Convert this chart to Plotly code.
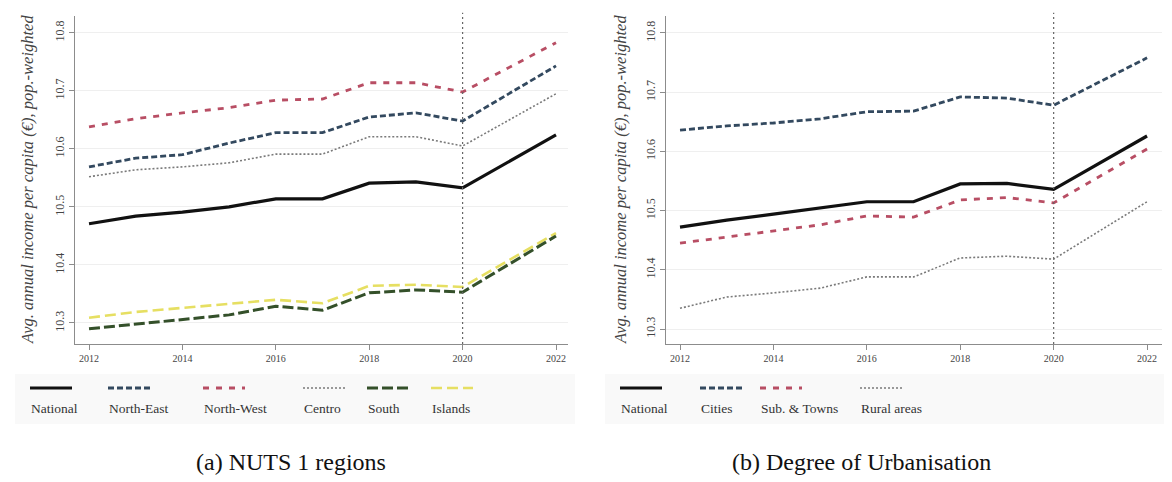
import plotly.graph_objects as go

# ---------------- data ----------------
years = [2012, 2013, 2014, 2015, 2016, 2017, 2018, 2019, 2020, 2022]

# Panel (a): NUTS 1 regions
national_a = [10.471, 10.484, 10.491, 10.500, 10.514, 10.514, 10.541, 10.543, 10.533, 10.624]
north_east = [10.569, 10.584, 10.590, 10.610, 10.628, 10.628, 10.655, 10.662, 10.648, 10.743]
north_west = [10.638, 10.652, 10.662, 10.671, 10.684, 10.686, 10.714, 10.714, 10.698, 10.783]
centro = [10.552, 10.564, 10.569, 10.576, 10.591, 10.591, 10.621, 10.621, 10.605, 10.695]
south = [10.290, 10.298, 10.305, 10.314, 10.329, 10.322, 10.352, 10.357, 10.353, 10.450]
islands = [10.309, 10.319, 10.326, 10.333, 10.340, 10.334, 10.364, 10.366, 10.362, 10.455]

# Panel (b): Degree of Urbanisation
national_b = [10.472, 10.484, 10.494, 10.504, 10.515, 10.515, 10.545, 10.546, 10.536, 10.626]
cities = [10.636, 10.643, 10.648, 10.655, 10.667, 10.668, 10.692, 10.690, 10.678, 10.758]
sub_towns = [10.445, 10.455, 10.466, 10.476, 10.491, 10.489, 10.518, 10.522, 10.513, 10.604]
rural = [10.335, 10.354, 10.361, 10.369, 10.388, 10.388, 10.420, 10.423, 10.418, 10.515]

x_ticks = [2012, 2014, 2016, 2018, 2020, 2022]
y_ticks = [10.3, 10.4, 10.5, 10.6, 10.7, 10.8]
y_tick_text = ["10.3", "10.4", "10.5", "10.6", "10.7", "10.8"]
break_year = 2020

labels_a = ["National", "North-East", "North-West", "Centro", "South", "Islands"]
labels_b = ["National", "Cities", "Sub. & Towns", "Rural areas"]
y_title = "Avg. annual income per capita (€), pop.-weighted"
caption_a = "(a) NUTS 1 regions"
caption_b = "(b) Degree of Urbanisation"

# ---------------- styles ----------------
WIN_W, WIN_H = 1172, 482
OFF = 8  # default page margin of the html body
W, H = WIN_W - OFF, WIN_H - OFF
SERIF = "Liberation Serif, Times New Roman, serif"

NAVY = "#33495f"
PINK = "#b84e64"
GREY = "#7a7a7a"
GREEN = "#34502a"
YELLOW = "#e6df62"

styles_a = [
    dict(color="#111111", width=3.2, dash="solid"),
    dict(color=NAVY, width=2.8, dash="6px,3px"),
    dict(color=PINK, width=2.8, dash="6px,7px"),
    dict(color=GREY, width=1.6, dash="2px,2px"),
    dict(color=GREEN, width=3.0, dash="11px,4px"),
    dict(color=YELLOW, width=2.6, dash="11px,5px"),
]
styles_b = [
    dict(color="#111111", width=3.2, dash="solid"),
    dict(color=NAVY, width=2.8, dash="6px,3px"),
    dict(color=PINK, width=2.8, dash="6px,7px"),
    dict(color=GREY, width=1.6, dash="2px,2px"),
]


def px(x):
    """window pixel x -> paper coordinate"""
    return (x - OFF) / W


def py(y):
    """window pixel y -> paper coordinate"""
    return 1 - (y - OFF) / H


fig = go.Figure()

series_a = [national_a, north_east, north_west, centro, south, islands]
series_b = [national_b, cities, sub_towns, rural]

order_a = [5, 4, 3, 1, 2, 0]
for i in order_a:
    fig.add_trace(go.Scatter(x=years, y=series_a[i], mode="lines", name=labels_a[i],
                             line=styles_a[i], xaxis="x", yaxis="y", showlegend=False,
                             hoverinfo="x+y+name"))
order_b = [3, 2, 1, 0]
for i in order_b:
    fig.add_trace(go.Scatter(x=years, y=series_b[i], mode="lines", name=labels_b[i],
                             line=styles_b[i], xaxis="x2", yaxis="y2", showlegend=False,
                             hoverinfo="x+y+name"))

axis_common = dict(
    showline=True, linecolor="#8c8c8c", linewidth=1.2,
    ticks="outside", ticklen=5, tickcolor="#8c8c8c", tickwidth=1,
    zeroline=False,
)
xfont = dict(family=SERIF, size=10, color="#444444")
yfont = dict(family=SERIF, size=12, color="#444444")

A = dict(x0=75, x1=568, top=16, bottom=344)
B = dict(x0=666, x1=1162, top=16, bottom=344)

fig.update_layout(
    width=W, height=H, autosize=False,
    margin=dict(l=0, r=0, t=0, b=0),
    paper_bgcolor="white", plot_bgcolor="white",
    xaxis=dict(domain=[px(A["x0"]), px(A["x1"])], range=[2011.70, 2022.257],
               tickvals=x_ticks, showgrid=False, anchor="y", tickfont=xfont, **axis_common),
    yaxis=dict(domain=[py(A["bottom"]), py(A["top"])], range=[10.2638, 10.829],
               tickvals=y_ticks, ticktext=y_tick_text, tickangle=-90, tickfont=yfont,
               showgrid=True, gridcolor="#efefef", gridwidth=1, anchor="x", **axis_common),
    xaxis2=dict(domain=[px(B["x0"]), px(B["x1"])], range=[2011.70, 2022.32],
                tickvals=x_ticks, showgrid=False, anchor="y2", tickfont=xfont, **axis_common),
    yaxis2=dict(domain=[py(B["bottom"]), py(B["top"])], range=[10.2747, 10.8287],
                tickvals=y_ticks, ticktext=y_tick_text, tickangle=-90, tickfont=yfont,
                showgrid=True, gridcolor="#efefef", gridwidth=1, anchor="x2", **axis_common),
)

shapes = []
annotations = []

for xr, yr in (("x", "y domain"), ("x2", "y2 domain")):
    shapes.append(dict(type="line", xref=xr, yref=yr, x0=break_year, x1=break_year,
                       y0=0, y1=1.01, line=dict(color="#666666", width=1.2, dash="2px,3px"),
                       layer="above"))

for xpix in (27, 620):
    annotations.append(dict(text="<i>" + y_title + "</i>", xref="paper", yref="paper",
                            x=px(xpix), y=py((16 + 344) / 2), textangle=-90,
                            showarrow=False, xanchor="center", yanchor="middle",
                            font=dict(family=SERIF, size=16.5, color="#444444")))

leg_x_a = [30, 108, 203, 303, 367, 431]
leg_x_b = [620, 700, 760, 860]
for xs, labs, sty in ((leg_x_a, labels_a, styles_a), (leg_x_b, labels_b, styles_b)):
    for x, lab, s in zip(xs, labs, sty):
        shapes.append(dict(type="line", xref="paper", yref="paper",
                           x0=px(x), x1=px(x + 42), y0=py(388), y1=py(388),
                           line=dict(color=s["color"], width=s["width"], dash=s["dash"])))
        annotations.append(dict(text=lab, xref="paper", yref="paper", x=px(x - 1), y=py(408),
                                xanchor="left", yanchor="middle", showarrow=False,
                                font=dict(family=SERIF, size=13.5, color="#333333")))

for x0, x1 in ((15, 575), (605, 1168)):
    shapes.append(dict(type="rect", xref="paper", yref="paper", x0=px(x0), x1=px(x1),
                       y0=py(424), y1=py(374), fillcolor="#f9f9f9", line=dict(width=0),
                       layer="below"))

annotations.append(dict(text=caption_a, xref="paper", yref="paper", x=px(291), y=py(462),
                        xanchor="center", yanchor="middle", showarrow=False,
                        font=dict(family=SERIF, size=24, color="#111111")))
annotations.append(dict(text=caption_b, xref="paper", yref="paper", x=px(862), y=py(462),
                        xanchor="center", yanchor="middle", showarrow=False,
                        font=dict(family=SERIF, size=24, color="#111111")))

fig.update_layout(shapes=shapes, annotations=annotations)

fig.write_html("out.html")
